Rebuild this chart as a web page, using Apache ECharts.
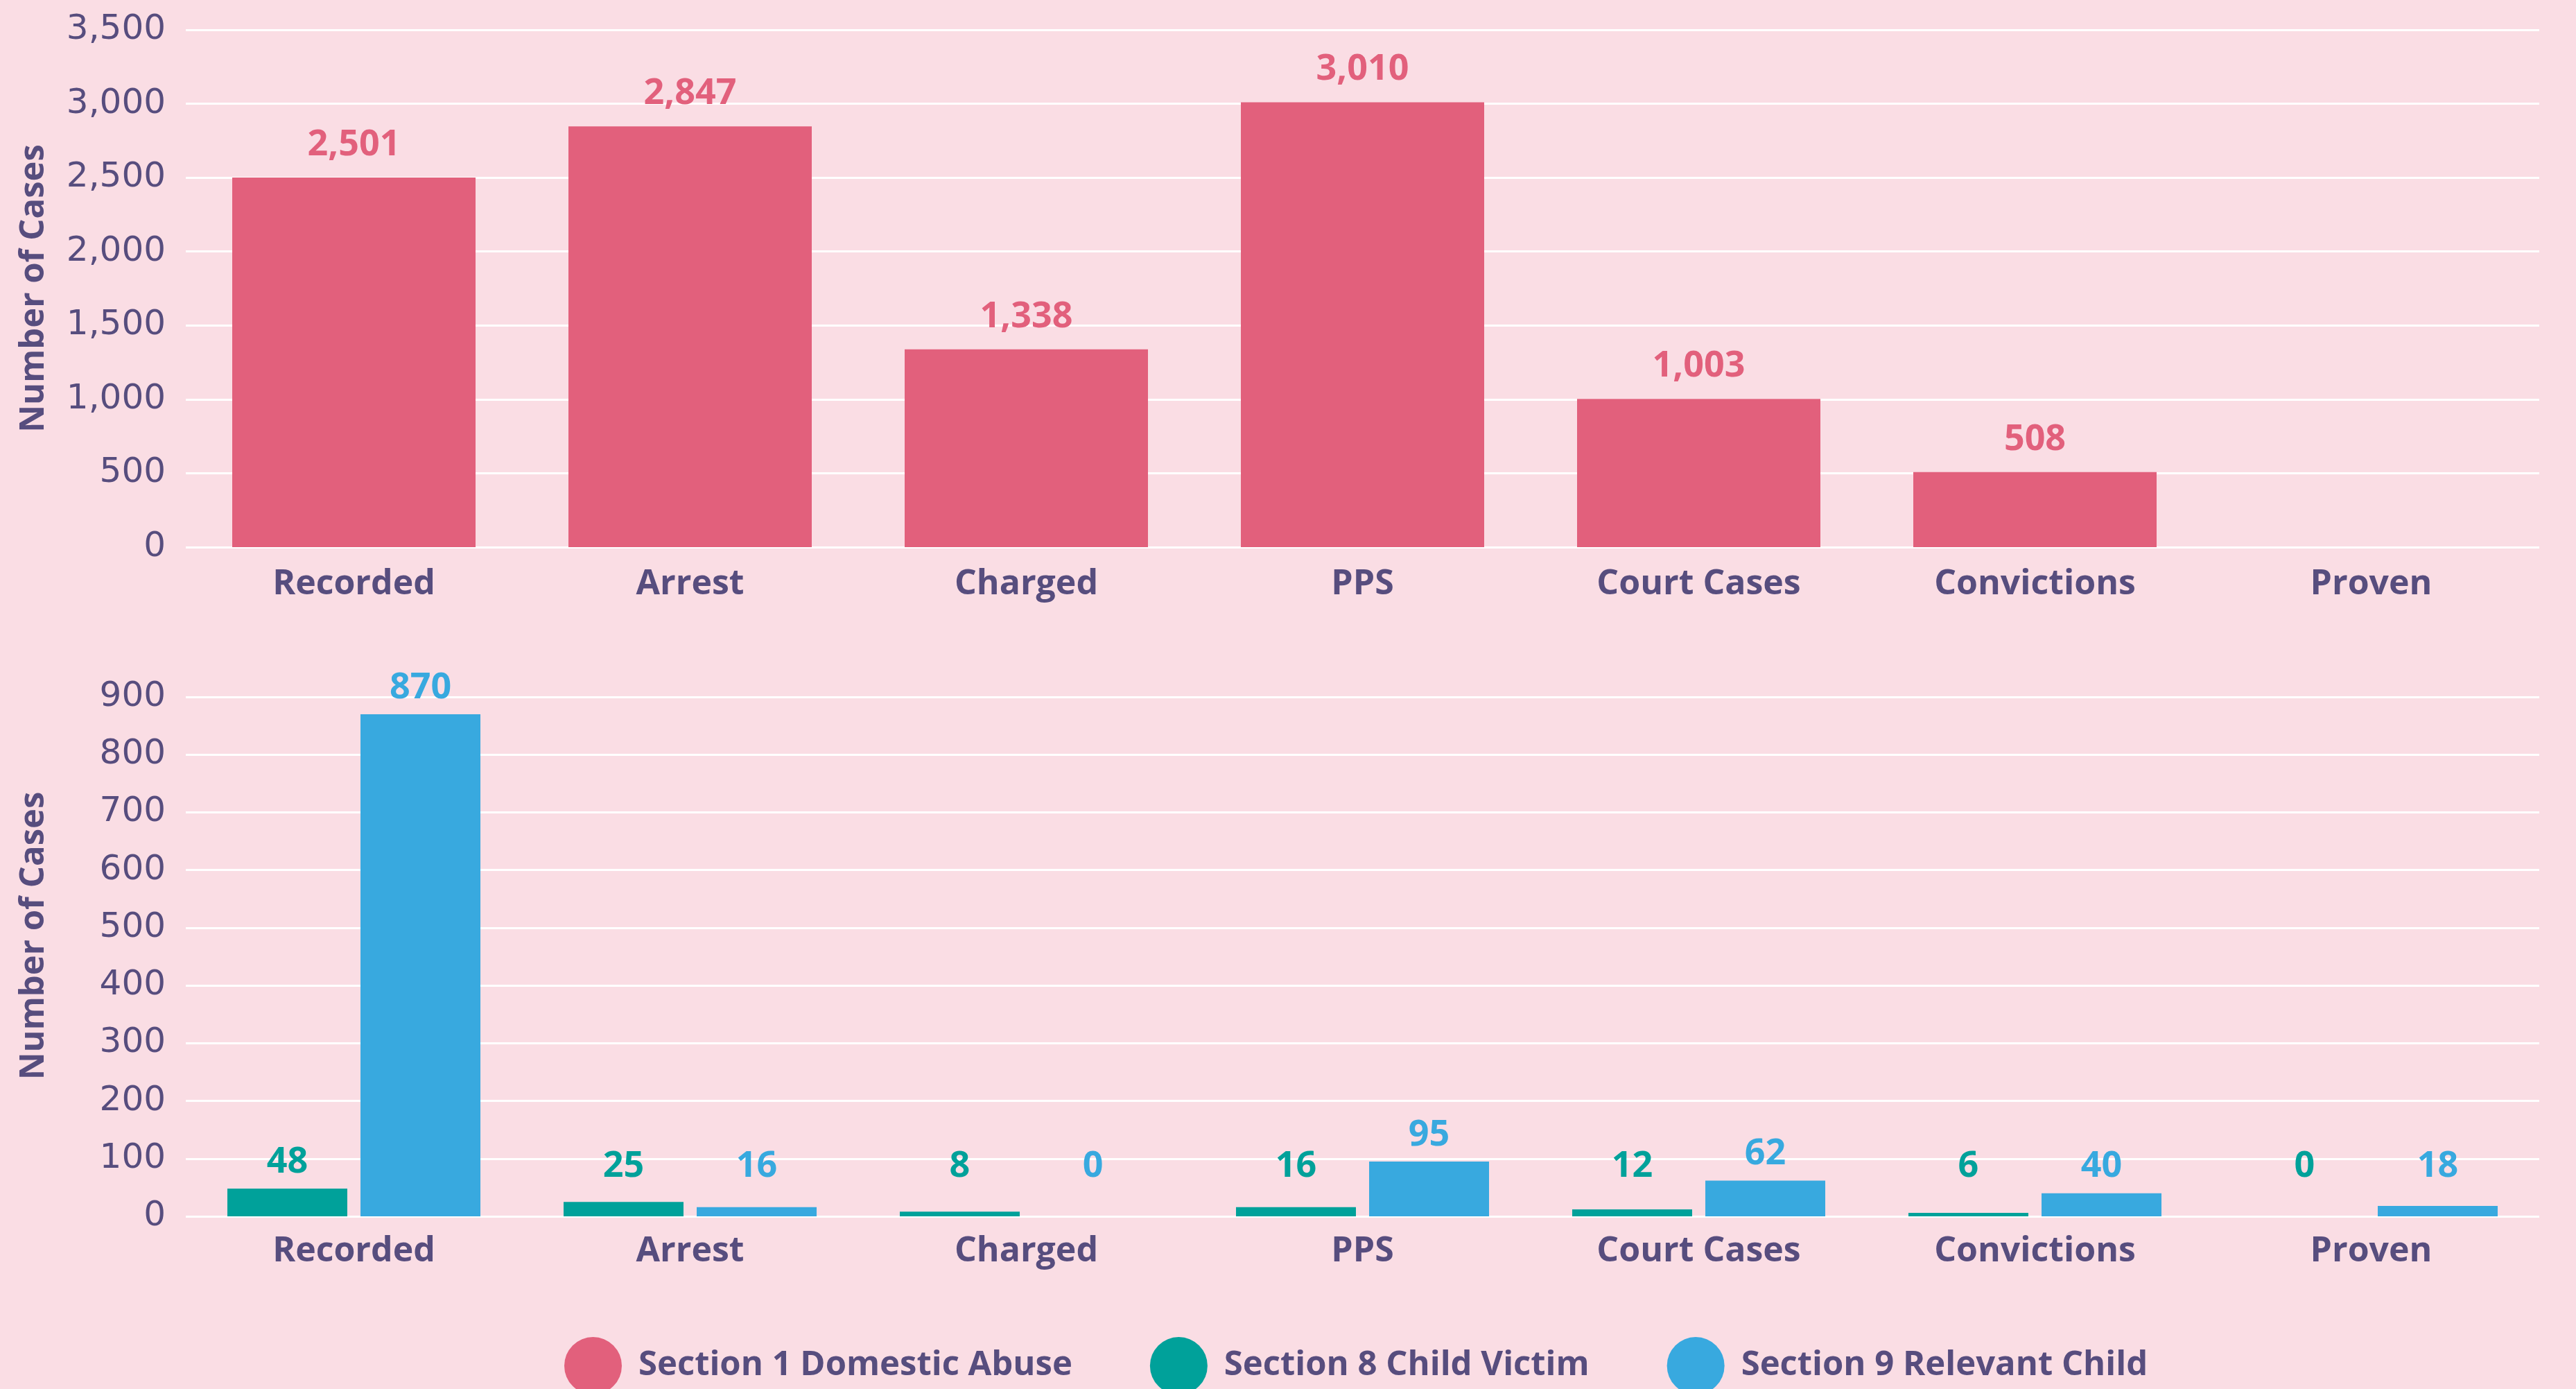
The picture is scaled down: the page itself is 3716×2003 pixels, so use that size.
<!DOCTYPE html>
<html>
<head>
<meta charset="utf-8">
<script src="https://cdn.jsdelivr.net/npm/echarts@6/dist/echarts.min.js"></script>
<style>
  html, body { margin: 0; padding: 0; background: #fadde4; }
  #chart { width: 3716px; height: 2003px; }
</style>
</head>
<body>
<div id="chart"></div>
<script>
const categories = ["Recorded", "Arrest", "Charged", "PPS", "Court Cases", "Convictions", "Proven"]
const section1 = [2501, 2847, 1338, 3010, 1003, 508, null]
const section8 = [48, 25, 8, 16, 12, 6, 0]
const section9 = [870, 16, 0, 95, 62, 40, 18]
const seriesNames = ["Section 1 Domestic Abuse", "Section 8 Child Victim", "Section 9 Relevant Child"]
const topTicks = { min: 0, max: 3500, interval: 500 }
const bottomTicks = { min: 0, max: 900, interval: 100 }

const textColor = "#574d7e"
const colors = ["#e2607c", "#00a19a", "#38a9df"]
const font = "Open Sans"

const chart = echarts.init(document.getElementById("chart"))

const fmt = (v) => v.toLocaleString("en-US")

const xAxisBase = {
  type: "category",
  data: categories,
  axisLine: { show: false },
  axisTick: { show: false },
  axisLabel: {
    color: textColor,
    fontFamily: font,
    fontWeight: "bold",
    fontSize: 50,
    margin: 29,
  },
}

const yAxisBase = {
  type: "value",
  name: "Number of Cases",
  nameLocation: "middle",
  nameGap: 194,
  nameTextStyle: {
    color: textColor,
    fontFamily: font,
    fontWeight: "bold",
    fontSize: 49,
  },
  axisLine: { show: false },
  axisTick: { show: false },
  axisLabel: {
    color: textColor,
    fontFamily: "DejaVu Sans",
    fontSize: 50,
    margin: 29,
    padding: [6, 0, 0, 0],
    formatter: fmt,
  },
  splitLine: { lineStyle: { color: "#ffffff", width: 3 } },
}

const valueLabel = (color, distance) => ({
  show: true,
  position: "top",
  distance: distance,
  color: color,
  fontFamily: font,
  fontWeight: "bold",
  fontSize: 52,
  formatter: (p) => fmt(p.value),
})

function buildOption(bottomDistances) {
  return {
    backgroundColor: "#fadde4",
    animation: false,
    grid: [
      { left: 268, right: 53, top: 43, height: 746 },
      { left: 268, right: 53, top: 1005, height: 749 },
    ],
    xAxis: [
      Object.assign({ gridIndex: 0 }, xAxisBase),
      Object.assign({ gridIndex: 1 }, xAxisBase, {
        axisLabel: Object.assign({}, xAxisBase.axisLabel, { margin: 26 }),
      }),
    ],
    yAxis: [
      Object.assign({ gridIndex: 0 }, yAxisBase, topTicks),
      Object.assign({ gridIndex: 1 }, yAxisBase, bottomTicks, {
        nameTextStyle: Object.assign({}, yAxisBase.nameTextStyle, { padding: [0, 0, 0, 60] }),
      }),
    ],
    legend: {
      data: seriesNames,
      left: 814,
      top: 1928,
      padding: 0,
      icon: "circle",
      itemWidth: 83,
      itemHeight: 83,
      itemGap: 112,
      textStyle: {
        color: textColor,
        fontFamily: font,
        fontWeight: "bold",
        fontSize: 49,
        padding: [0, 0, 0, 19],
      },
    },
    series: [
      {
        name: seriesNames[0],
        type: "bar",
        xAxisIndex: 0,
        yAxisIndex: 0,
        data: section1,
        barWidth: 351,
        itemStyle: { color: colors[0] },
        label: valueLabel(colors[0], 21),
      },
      {
        name: seriesNames[1],
        type: "bar",
        xAxisIndex: 1,
        yAxisIndex: 1,
        barWidth: 173,
        barGap: "11%",
        itemStyle: { color: colors[1] },
        data: section8.map((v, i) => ({
          value: v,
          label: { distance: bottomDistances ? bottomDistances[0][i] : 14 },
        })),
        label: valueLabel(colors[1], 14),
      },
      {
        name: seriesNames[2],
        type: "bar",
        xAxisIndex: 1,
        yAxisIndex: 1,
        barWidth: 173,
        barGap: "11%",
        itemStyle: { color: colors[2] },
        data: section9.map((v, i) => ({
          value: v,
          label: { distance: bottomDistances ? bottomDistances[1][i] : 14 },
        })),
        label: valueLabel(colors[2], 14),
      },
    ],
  }
}

chart.setOption(buildOption(null))

// small bars in the lower chart keep their labels on a common baseline
const floorPx = chart.convertToPixel({ yAxisIndex: 1 }, 67)
const lift = (v) => Math.max(12, chart.convertToPixel({ yAxisIndex: 1 }, v) - floorPx - 10)
chart.setOption(buildOption([section8.map(lift), section9.map(lift)]))
</script>
</body>
</html>
